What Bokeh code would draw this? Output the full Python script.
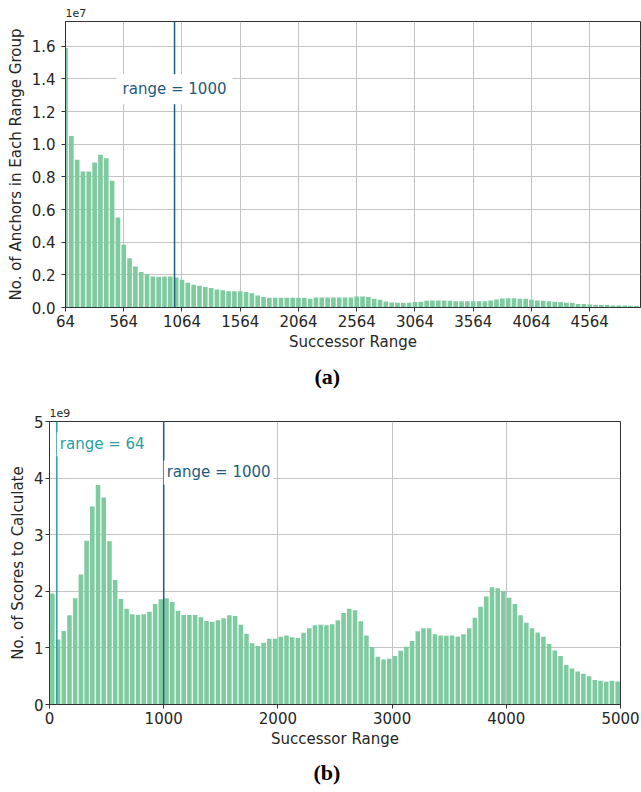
from bokeh.plotting import figure
from bokeh.models import Range1d, FixedTicker, Span, Label, Title, NumeralTickFormatter
from bokeh.layouts import column
from bokeh.embed import file_html
from bokeh.resources import INLINE

# ---------------- data ----------------
# (a) anchors per successor-range group, bins of width 50 starting at 64 (values in units of 1e7)
anchor_bin_start = 64
bin_width = 50
anchor_counts_1e7 = [
    1.59, 1.05, 0.905, 0.833, 0.833, 0.888, 0.935, 0.914, 0.776, 0.551,
    0.384, 0.302, 0.251, 0.218, 0.204, 0.190, 0.188, 0.190, 0.190, 0.184,
    0.170, 0.152, 0.140, 0.134, 0.125, 0.119, 0.110, 0.105, 0.100, 0.100,
    0.100, 0.095, 0.087, 0.074, 0.065, 0.060, 0.060, 0.060, 0.060, 0.060,
    0.060, 0.060, 0.054, 0.061, 0.061, 0.061, 0.061, 0.061, 0.061, 0.062,
    0.067, 0.067, 0.065, 0.053, 0.047, 0.037, 0.031, 0.029, 0.029, 0.029,
    0.033, 0.035, 0.041, 0.043, 0.043, 0.043, 0.041, 0.039, 0.039, 0.039,
    0.039, 0.039, 0.039, 0.043, 0.049, 0.055, 0.057, 0.057, 0.053, 0.053,
    0.047, 0.043, 0.041, 0.039, 0.035, 0.033, 0.029, 0.027, 0.022, 0.022,
    0.018, 0.016, 0.016, 0.016, 0.012, 0.012, 0.012, 0.010, 0.010,
]
anchor_x = [anchor_bin_start + bin_width * i for i in range(len(anchor_counts_1e7))]
anchor_ticks = [64, 564, 1064, 1564, 2064, 2564, 3064, 3564, 4064, 4564]
anchor_yticks = [0.0, 0.2, 0.4, 0.6, 0.8, 1.0, 1.2, 1.4, 1.6]

# (b) scores to calculate, bins of width 50 from 0 to 5000 (values in units of 1e9)
score_counts_1e9 = [
    1.96, 1.15, 1.30, 1.575, 1.876, 2.295, 2.894, 3.498, 3.88, 3.657,
    2.883, 2.20, 1.864, 1.693, 1.593, 1.581, 1.593, 1.64, 1.776, 1.858,
    1.876, 1.811, 1.658, 1.581, 1.581, 1.581, 1.54, 1.475, 1.463, 1.487,
    1.522, 1.575, 1.563, 1.41, 1.251, 1.08, 1.032, 1.091, 1.162, 1.162,
    1.198, 1.221, 1.186, 1.174, 1.268, 1.345, 1.398, 1.41, 1.398, 1.416,
    1.487, 1.617, 1.693, 1.664, 1.469, 1.221, 1.015, 0.844, 0.796, 0.808,
    0.855, 0.950, 1.021, 1.121, 1.292, 1.345, 1.345, 1.239, 1.221, 1.215,
    1.221, 1.198, 1.239, 1.345, 1.534, 1.729, 1.906, 2.071, 2.053, 2.006,
    1.888, 1.776, 1.575, 1.445, 1.345, 1.274, 1.198, 1.068, 0.956, 0.855,
    0.696, 0.637, 0.584, 0.543, 0.501, 0.431, 0.419, 0.401, 0.419, 0.407,
]
score_x = [bin_width / 2 + bin_width * i for i in range(len(score_counts_1e9))]
score_ticks = [0, 1000, 2000, 3000, 4000, 5000]
score_yticks = [0, 1, 2, 3, 4, 5]

markers_a = [1000]
markers_b = [64, 1000]

BAR = "#7fcba0"
C1000 = "#1d5c7c"
C64 = "#2a9fa6"
FONT = "DejaVu Sans"
TXT = "#262626"
SPINE = "#333333"
GRID = "#c4c4c4"


def style(p, xticks, yticks, yfmt, ylab_standoff, ymaj_standoff):
    p.background_fill_color = "white"
    p.border_fill_color = "white"
    p.outline_line_color = SPINE
    p.outline_line_width = 1
    p.xaxis.ticker = FixedTicker(ticks=xticks)
    p.yaxis.ticker = FixedTicker(ticks=yticks)
    if yfmt:
        p.yaxis.formatter = NumeralTickFormatter(format=yfmt)
    for ax in (p.xaxis[0], p.yaxis[0]):
        ax.major_label_text_font = FONT
        ax.major_label_text_font_size = "15px"
        ax.major_label_text_color = TXT
        ax.axis_label_text_font = FONT
        ax.axis_label_text_font_size = "15px"
        ax.axis_label_text_font_style = "normal"
        ax.axis_label_text_color = TXT
        ax.axis_line_color = SPINE
        ax.major_tick_line_color = SPINE
        ax.major_tick_out = 4
        ax.major_tick_in = 0
        ax.minor_tick_out = 0
        ax.minor_tick_in = 0
    p.xaxis.major_label_standoff = 3
    p.xaxis.axis_label_standoff = 3
    p.yaxis.major_label_standoff = ymaj_standoff
    p.yaxis.axis_label_standoff = ylab_standoff
    p.xgrid.grid_line_color = GRID
    p.ygrid.grid_line_color = GRID
    p.xgrid.grid_line_width = 1
    p.ygrid.grid_line_width = 1
    p.title.text_font = FONT
    p.title.text_font_size = "11px"
    p.title.text_font_style = "normal"
    p.title.text_color = TXT
    p.title.align = "left"


# ---------------- (a) ----------------
p1 = figure(width=641, height=400, output_backend="svg", toolbar_location=None,
            x_range=Range1d(64, 5000), y_range=Range1d(0, 1.752),
            min_border_left=65, min_border_right=1, min_border_top=21,
            min_border_bottom=93, title="1e7", frame_align=False)
p1.vbar(x=anchor_x, top=anchor_counts_1e7, width=40, bottom=0,
        fill_color=BAR, line_color=None)
p1.xaxis.axis_label = "Successor Range"
p1.yaxis.axis_label = "No. of Anchors in Each Range Group"
style(p1, anchor_ticks, anchor_yticks, "0.0", 4, 6)
p1.add_layout(Span(location=markers_a[0], dimension="height", line_color=C1000, line_width=1.5))
p1.add_layout(Label(x=markers_a[0], y=1.337, text="range = 1000", text_align="center",
                    text_baseline="middle", text_color=C1000, text_font=FONT,
                    text_font_size="15px", background_fill_color="white", padding=6))
p1.add_layout(Title(text="(a)", align="left", offset=249, standoff=17, text_font="Liberation Serif",
                    text_font_size="22px", text_font_style="bold", text_color="black"), "below")

# ---------------- (b) ----------------
p2 = figure(width=641, height=392, output_backend="svg", toolbar_location=None,
            x_range=Range1d(0, 5000), y_range=Range1d(0, 5),
            min_border_left=49, min_border_right=21, min_border_top=21,
            min_border_bottom=88, title="1e9", frame_align=False)
p2.vbar(x=score_x, top=score_counts_1e9, width=40, bottom=0,
        fill_color=BAR, line_color=None)
p2.xaxis.axis_label = "Successor Range"
p2.yaxis.axis_label = "No. of Scores to Calculate"
style(p2, score_ticks, score_yticks, None, 4, 2)
p2.add_layout(Span(location=markers_b[0], dimension="height", line_color=C64, line_width=1.5))
p2.add_layout(Span(location=markers_b[1], dimension="height", line_color=C1000, line_width=1.5))
p2.add_layout(Label(x=markers_b[0], y=4.6, text="range = 64", text_align="left",
                    text_baseline="middle", text_color=C64, text_font=FONT,
                    text_font_size="15px", background_fill_color="white", padding=3))
p2.add_layout(Label(x=markers_b[1], y=4.1, text="range = 1000", text_align="left",
                    text_baseline="middle", text_color=C1000, text_font=FONT,
                    text_font_size="15px", background_fill_color="white", padding=3))
p2.add_layout(Title(text="(b)", align="left", offset=264, standoff=14, text_font="Liberation Serif",
                    text_font_size="22px", text_font_style="bold", text_color="black"), "below")

layout = column(p1, p2, spacing=0)
open("out.html", "w").write(file_html(layout, INLINE))
